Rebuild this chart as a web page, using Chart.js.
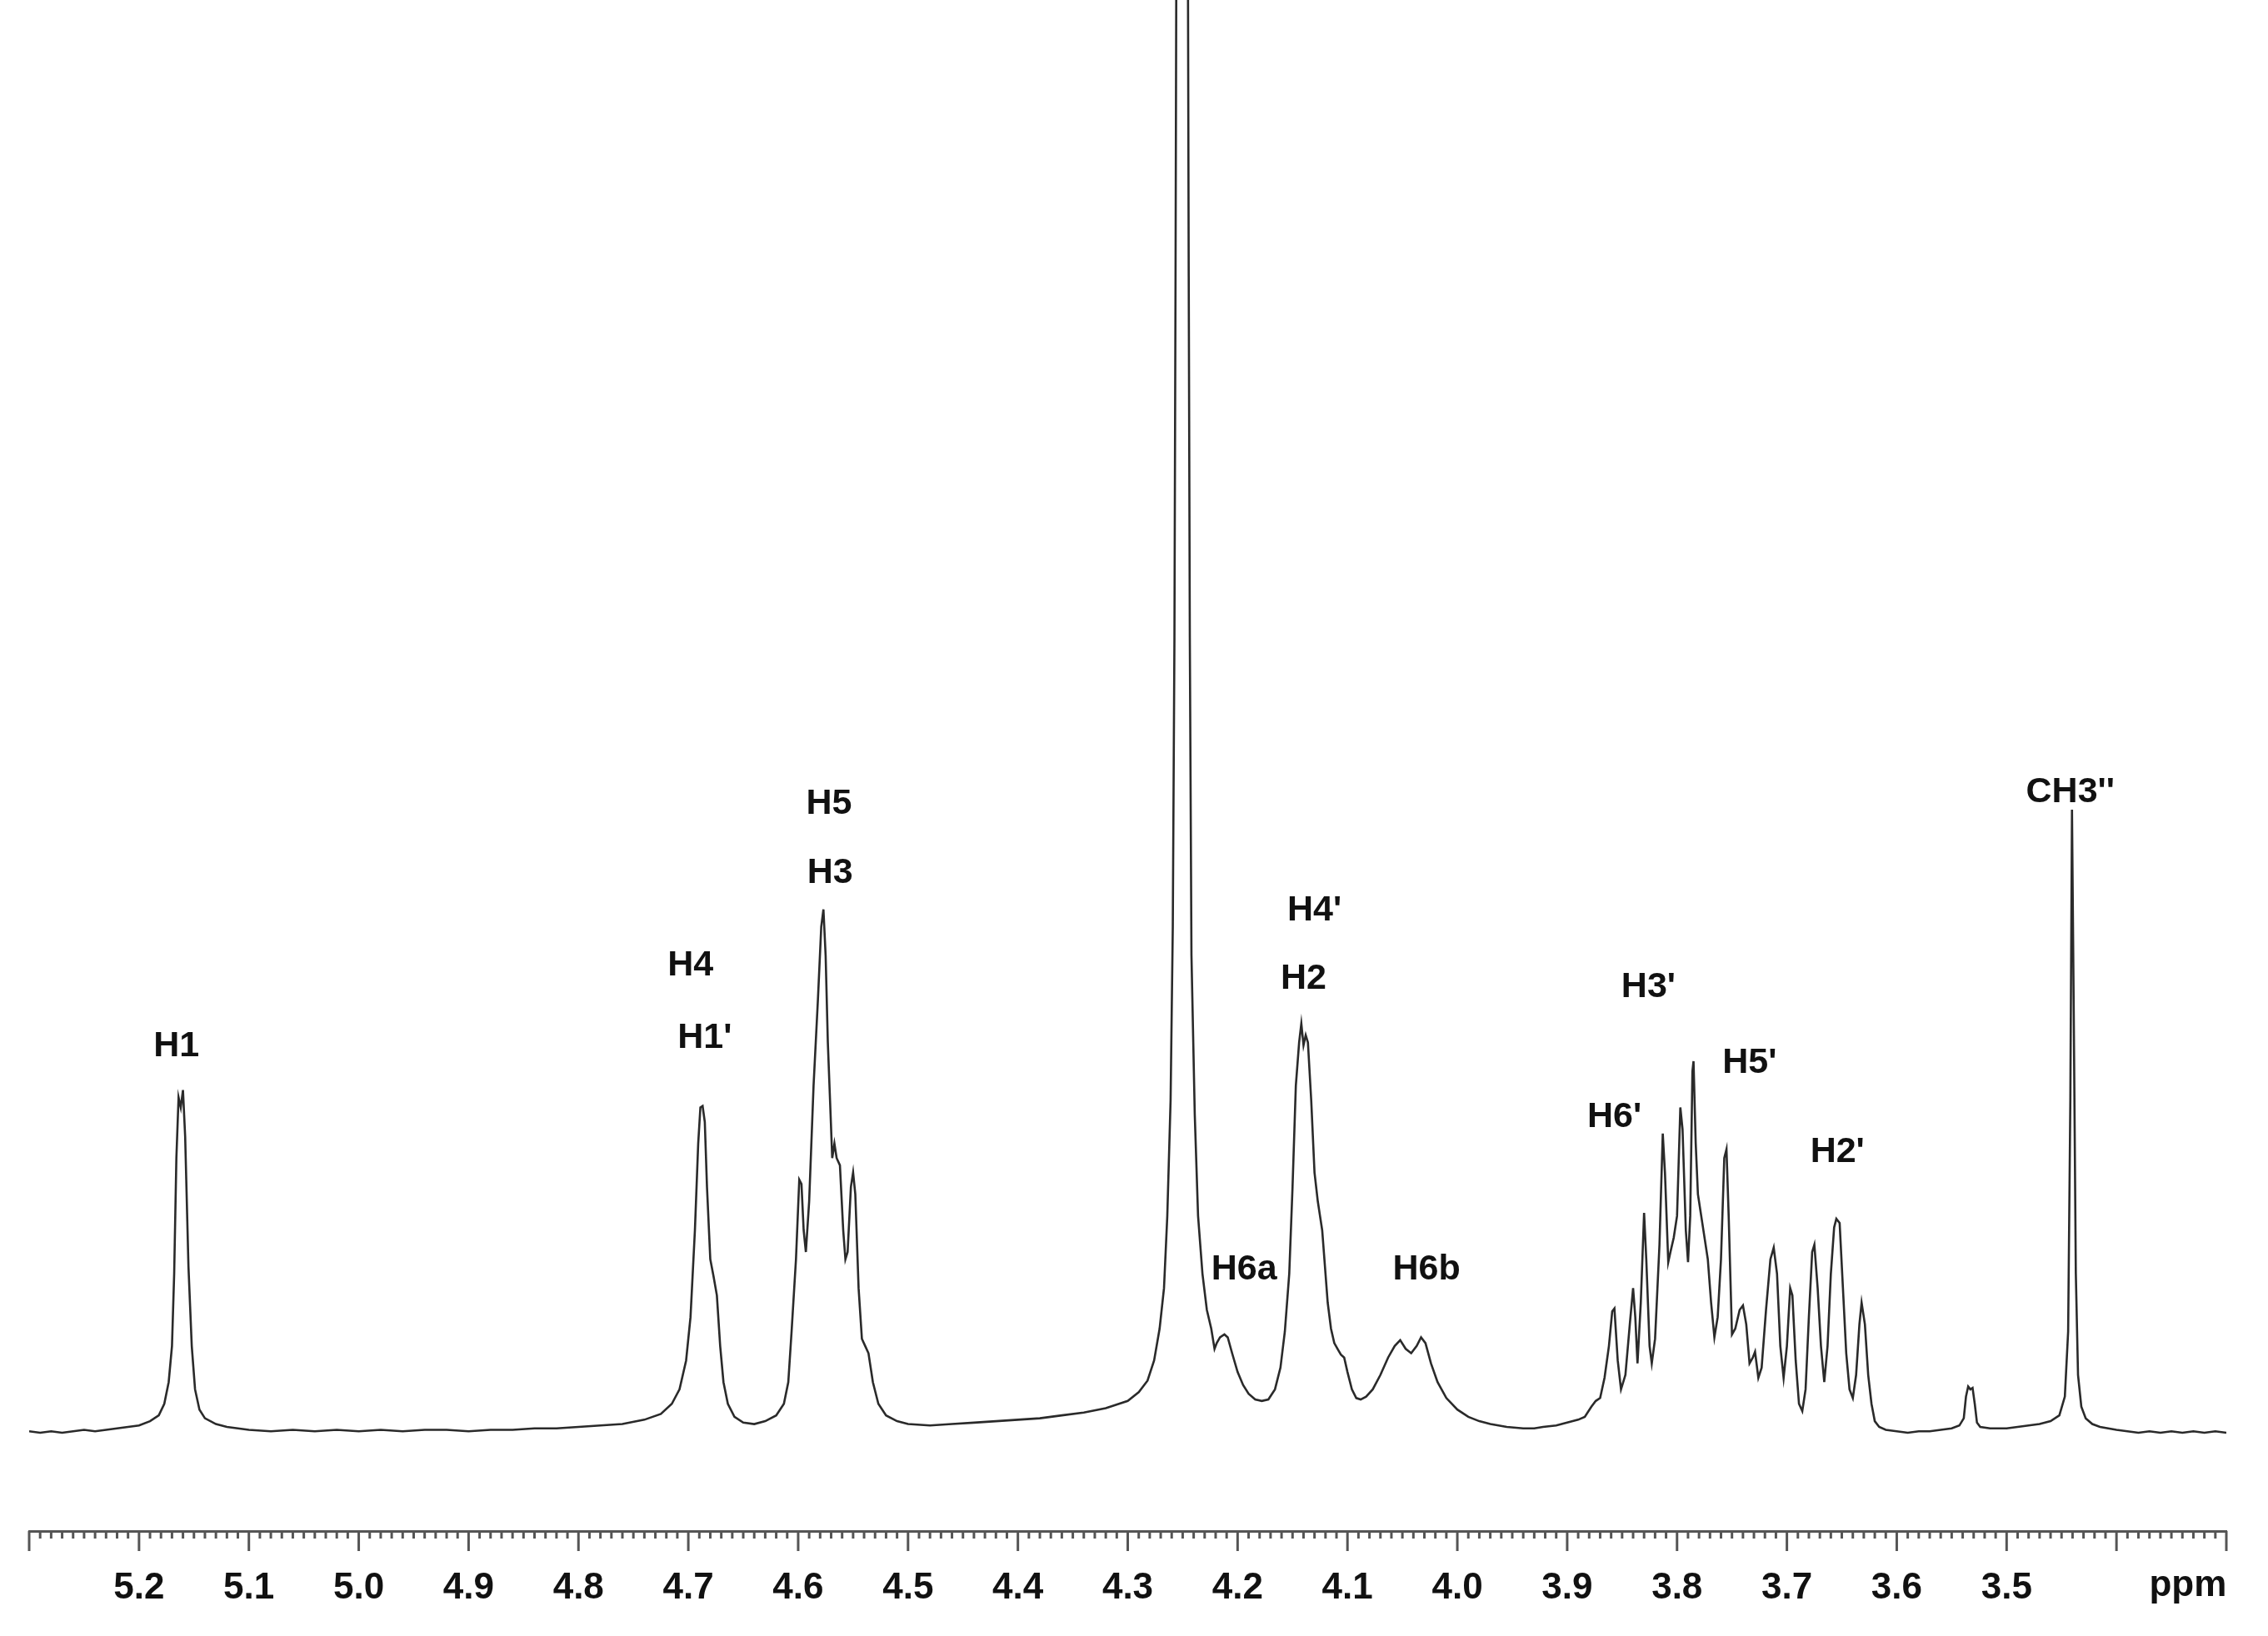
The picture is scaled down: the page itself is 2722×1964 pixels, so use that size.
<!DOCTYPE html>
<html><head><meta charset="utf-8">
<script src="https://cdn.jsdelivr.net/npm/chart.js@4"></script>
<style>html,body{margin:0;padding:0;background:#fff;overflow:hidden}</style>
</head><body>
<canvas id="c" width="2722" height="1964"></canvas>
<script>
const ppm = [5.300,5.290,5.280,5.270,5.260,5.250,5.240,5.230,5.220,5.210,5.200,5.190,5.182,5.177,5.173,5.170,5.168,5.166,5.164,5.162,5.160,5.158,5.155,5.152,5.149,5.145,5.140,5.130,5.120,5.110,5.100,5.080,5.060,5.040,5.020,5.000,4.980,4.960,4.940,4.920,4.900,4.880,4.860,4.840,4.820,4.800,4.780,4.760,4.740,4.725,4.715,4.708,4.702,4.698,4.694,4.691,4.689,4.687,4.685,4.683,4.680,4.677,4.674,4.671,4.668,4.664,4.658,4.650,4.640,4.630,4.620,4.613,4.609,4.606,4.602,4.599,4.597,4.595,4.593,4.590,4.586,4.582,4.579,4.577,4.575,4.573,4.571,4.569,4.567,4.565,4.562,4.559,4.557,4.555,4.552,4.550,4.548,4.545,4.542,4.539,4.536,4.532,4.527,4.520,4.510,4.500,4.480,4.460,4.440,4.420,4.400,4.380,4.360,4.340,4.320,4.300,4.290,4.282,4.276,4.271,4.267,4.264,4.261,4.259,4.2575,4.2565,4.2555,4.2535,4.2505,4.2475,4.2455,4.2445,4.2435,4.242,4.239,4.236,4.232,4.228,4.224,4.221,4.219,4.216,4.212,4.209,4.205,4.200,4.195,4.190,4.184,4.178,4.172,4.166,4.161,4.157,4.153,4.150,4.147,4.144,4.142,4.140,4.138,4.136,4.133,4.130,4.127,4.125,4.123,4.121,4.118,4.115,4.112,4.109,4.106,4.103,4.100,4.096,4.092,4.088,4.083,4.077,4.070,4.063,4.057,4.052,4.047,4.042,4.037,4.033,4.029,4.024,4.018,4.010,4.000,3.990,3.980,3.970,3.955,3.940,3.930,3.922,3.910,3.900,3.890,3.884,3.878,3.874,3.870,3.866,3.862,3.859,3.857,3.854,3.851,3.847,3.843,3.840,3.838,3.836,3.833,3.830,3.828,3.825,3.823,3.820,3.816,3.813,3.811,3.808,3.806,3.803,3.800,3.797,3.795,3.792,3.790,3.788,3.786,3.785,3.783,3.781,3.778,3.775,3.772,3.769,3.766,3.763,3.760,3.757,3.755,3.753,3.750,3.747,3.743,3.740,3.737,3.734,3.731,3.729,3.726,3.723,3.719,3.715,3.712,3.709,3.706,3.703,3.700,3.697,3.695,3.692,3.689,3.686,3.683,3.680,3.677,3.675,3.672,3.669,3.666,3.663,3.660,3.657,3.655,3.652,3.649,3.646,3.643,3.640,3.637,3.634,3.632,3.629,3.626,3.623,3.620,3.616,3.610,3.600,3.590,3.580,3.570,3.560,3.550,3.543,3.539,3.537,3.535,3.533,3.531,3.529,3.527,3.524,3.515,3.500,3.490,3.480,3.470,3.460,3.452,3.447,3.444,3.442,3.4405,3.439,3.437,3.435,3.432,3.428,3.422,3.415,3.400,3.390,3.380,3.370,3.360,3.350,3.340,3.330,3.320,3.310,3.300];
const intensity = [1,0,1,0,1,2,1,2,3,4,5,8,12,20,35,60,110,190,232,225,237,205,115,60,30,16,10,6,4,3,2,1,2,1,2,1,2,1,2,2,1,2,2,3,3,4,5,6,9,13,20,30,50,80,140,200,225,226,215,170,120,108,95,60,35,20,11,7,6,8,12,20,35,70,120,175,172,140,125,160,240,300,350,362,330,270,230,190,200,190,185,140,120,125,170,180,165,100,65,60,55,35,20,12,8,6,5,6,7,8,9,10,12,14,17,22,28,36,50,72,100,150,230,350,550,800,1100,1800,2200,1800,1100,800,550,330,220,150,110,85,72,58,62,66,68,66,55,42,33,27,23,22,23,30,45,70,110,170,240,270,283,268,275,270,230,180,160,150,140,120,90,72,62,58,54,52,42,30,24,23,25,30,40,52,60,64,58,55,60,66,62,48,35,24,16,11,8,6,4,3,3,4,5,7,9,11,18,22,24,38,60,84,86,50,30,40,75,100,80,48,90,152,120,60,48,65,130,207,180,118,125,135,150,225,210,140,118,150,250,257,200,165,150,135,120,90,66,80,120,190,196,150,68,72,85,88,75,48,52,56,38,45,85,120,128,110,60,38,60,100,95,50,20,15,30,80,125,130,100,60,35,60,110,142,148,145,100,55,30,24,40,75,90,75,40,20,8,4,2,1,0,1,1,2,3,5,10,25,32,30,31,20,7,4,3,3,4,5,6,8,12,25,70,230,431,300,110,40,18,10,6,4,2,1,0,1,0,1,0,1,0,1,0];
const majorTicks = [5.2,5.1,5.0,4.9,4.8,4.7,4.6,4.5,4.4,4.3,4.2,4.1,4.0,3.9,3.8,3.7,3.6,3.5];
const peakLabels = ["H1","H4","H1'","H5","H3","H4'","H2","H6a","H6b","H3'","H6'","H5'","H2'","CH3''"];
const labelPpm = [5.166,4.698,4.685,4.572,4.571,4.130,4.140,4.194,4.028,3.826,3.857,3.734,3.654,3.442];
const labelHeight = [267,323,273,435,387,361,314,113,113,308,218,256,194,443];

const FONT = "bold 43px 'Liberation Sans', Arial, sans-serif";
const extras = {
  id:'extras',
  afterDraw(chart){
    const ctx = chart.ctx, xs = chart.scales.x, ys = chart.scales.y;
    const ca = chart.chartArea;
    ctx.save();
    ctx.strokeStyle = '#555'; ctx.lineWidth = 3;
    for (let i = 0; i <= 200; i++) {
      const v = 3.3 + i*0.01;
      const px = xs.getPixelForValue(v);
      const major = (i % 10 === 0);
      ctx.beginPath(); ctx.moveTo(px, ca.bottom); ctx.lineTo(px, ca.bottom + (major ? 24 : 9)); ctx.stroke();
    }
    ctx.fillStyle = '#111'; ctx.font = FONT; ctx.textAlign = 'center'; ctx.textBaseline = 'middle';
    peakLabels.forEach((t,i)=>{
      ctx.fillText(t, xs.getPixelForValue(labelPpm[i]), ys.getPixelForValue(labelHeight[i]));
    });
    ctx.font = "bold 44px 'Liberation Sans', Arial, sans-serif";
    ctx.fillText('ppm', xs.getPixelForValue(3.335), ca.bottom + 66);
    ctx.restore();
  }
};

new Chart(document.getElementById('c'), {
  type:'line',
  data:{datasets:[{data: ppm.map((p,i)=>({x:p,y:intensity[i]})), borderColor:'#2a2a2a', borderWidth:2.6, pointRadius:0, tension:0, fill:false}]},
  options:{
    responsive:false, animation:false, devicePixelRatio:1,
    layout:{padding:{left:35,right:50,top:0,bottom:0}},
    plugins:{legend:{display:false},tooltip:{enabled:false}},
    scales:{
      x:{type:'linear', reverse:true, min:3.3, max:5.3,
        afterBuildTicks(s){ s.ticks = majorTicks.map(v=>({value:v})); },
        afterFit(s){ s.height = 126; },
        grid:{drawOnChartArea:false, drawTicks:false},
        border:{display:true, color:'#555', width:3},
        ticks:{color:'#111', padding:42, maxRotation:0, autoSkip:false,
          font:{family:"'Liberation Sans', Arial, sans-serif", weight:'bold', size:44},
          callback:(v)=>v.toFixed(1)}
      },
      y:{display:false, min:-68, max:991}
    }
  },
  plugins:[extras]
});
</script>
</body></html>
